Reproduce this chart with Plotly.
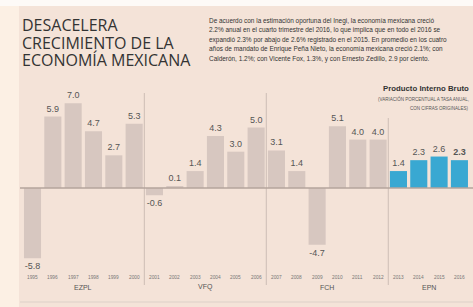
import plotly.graph_objects as go

# ---------------- data ----------------
years = ["1995", "1996", "1997", "1998", "1999", "2000",
         "2001", "2002", "2003", "2004", "2005", "2006",
         "2007", "2008", "2009", "2010", "2011", "2012",
         "2013", "2014", "2015", "2016"]
pib = [-5.8, 5.9, 7.0, 4.7, 2.7, 5.3,
       -0.6, 0.1, 1.4, 4.3, 3.0, 5.0,
       3.1, 1.4, -4.7, 5.1, 4.0, 4.0,
       1.4, 2.3, 2.6, 2.3]
groups = ["EZPL", "VFQ", "FCH", "EPN"]
group_sizes = [6, 6, 6, 4]

title_lines = ["DESACELERA", "CRECIMIENTO DE LA", "ECONOMÍA MEXICANA"]
paragraph = [
    "De acuerdo con la estimación oportuna del Inegi, la economía mexicana creció",
    "2.2% anual en el cuarto trimestre del 2016, lo que implica que en todo el 2016 se",
    "expandió 2.3% por abajo de 2.6% registrado en el 2015. En promedio en los cuatro",
    "años de mandato de Enrique Peña Nieto, la economía mexicana creció 2.1%; con",
    "Calderón, 1.2%; con Vicente Fox, 1.3%, y con Ernesto Zedillo, 2.9 por ciento.",
]
legend_title = "Producto Interno Bruto"
legend_sub = ["(VARIACIÓN PORCENTUAL A TASA ANUAL,", "CON CIFRAS ORIGINALES)"]

# ---------------- styling ----------------
W, H = 473, 307
BG = "#f4e3d8"
GRAY = "#d7c7c0"
BLUE = "#39a8d2"
NARROW = "Liberation Sans Narrow, Arial Narrow, Liberation Sans, sans-serif"

def px(x):
    return x / W

def py(y):
    return 1 - y / H

idx = list(range(len(years)))
group_of = []
for g, n in zip(groups, group_sizes):
    group_of += [g] * n
colors = [BLUE if g == "EPN" else GRAY for g in group_of]
labels = [f"{v:.1f}" for v in pib]
labels[-1] = "<b>" + labels[-1] + "</b>"

fig = go.Figure(go.Bar(
    x=idx, y=pib, width=0.84,
    marker=dict(color=colors, line=dict(width=0)),
    text=labels, textposition="outside", constraintext="none",
    cliponaxis=False,
    textfont=dict(family=NARROW, size=9, color="#555555"),
    hoverinfo="skip",
))

shapes = [
    dict(type="rect", xref="paper", yref="paper", x0=0, x1=px(19), y0=0, y1=1,
         fillcolor="#fcf0e4", line=dict(width=0), layer="below"),
    dict(type="rect", xref="paper", yref="paper", x0=0, x1=1, y0=py(6), y1=1,
         fillcolor="#fdfaf7", line=dict(width=0), layer="below"),
    dict(type="line", xref="paper", yref="y", x0=px(20), x1=1, y0=0, y1=0,
         line=dict(color="#b5a59d", width=1.5), layer="above"),
    dict(type="line", xref="paper", yref="paper", x0=px(20), x1=1, y0=py(302), y1=py(302),
         line=dict(color="#ddd0c8", width=1)),
]
# separators between groups
start = 0
sep_tops = [93, 93, 118]
for i, n in enumerate(group_sizes[:-1]):
    start += n
    shapes.append(dict(type="line", xref="x", yref="paper", x0=start - 0.5, x1=start - 0.5,
                       y0=py(285), y1=py(sep_tops[i]),
                       line=dict(color="#cdbdb5", width=1), layer="below"))

ann = []
# title
for line, yc in zip(title_lines, [25, 43, 60.5]):
    ann.append(dict(text=line, xref="paper", yref="paper", x=px(20), y=py(yc),
                    xanchor="left", yanchor="middle", showarrow=False,
                    font=dict(family="Open Sans", size=16, color="#333333")))
# paragraph
for k, line in enumerate(paragraph):
    ann.append(dict(text=line, xref="paper", yref="paper", x=px(207), y=py(20.7 + 9.6 * k),
                    xanchor="left", yanchor="middle", showarrow=False,
                    font=dict(family=NARROW, size=6.45, color="#333333")))
# legend
ann.append(dict(text="<b>" + legend_title + "</b>", xref="paper", yref="paper", x=px(471), y=py(88.5),
                xanchor="right", yanchor="middle", showarrow=False,
                font=dict(family=NARROW, size=7.8, color="#333333")))
for line, yc in zip(legend_sub, [99.3, 108.3]):
    ann.append(dict(text=line, xref="paper", yref="paper", x=px(471), y=py(yc),
                    xanchor="right", yanchor="middle", showarrow=False,
                    font=dict(family=NARROW, size=4.5, color="#555555")))
# year labels
for i, yr in zip(idx, years):
    ann.append(dict(text=yr, xref="x", yref="paper", x=i, y=py(277.5),
                    xanchor="center", yanchor="middle", showarrow=False,
                    font=dict(family=NARROW, size=4.8, color="#777777")))
# group labels
start = 0
for g, n in zip(groups, group_sizes):
    ann.append(dict(text=g, xref="x", yref="paper", x=start + (n - 1) / 2, y=py(287),
                    xanchor="center", yanchor="middle", showarrow=False,
                    font=dict(family=NARROW, size=7, color="#555555")))
    start += n

x0 = -32.5 / 20.33
x1 = (W - 32.5) / 20.33
fig.update_layout(
    width=W, height=H,
    margin=dict(l=0, r=0, t=0, b=0),
    paper_bgcolor=BG, plot_bgcolor="rgba(0,0,0,0)",
    showlegend=False,
    xaxis=dict(range=[x0, x1], visible=False, fixedrange=True),
    yaxis=dict(range=[-(H - 188) / 12.1, 188 / 12.1], visible=False, fixedrange=True),
    shapes=shapes, annotations=ann,
)

fig.write_html("out.html", config={"displayModeBar": False},
               post_script="document.body.style.margin='0';document.body.style.overflow='hidden';")
